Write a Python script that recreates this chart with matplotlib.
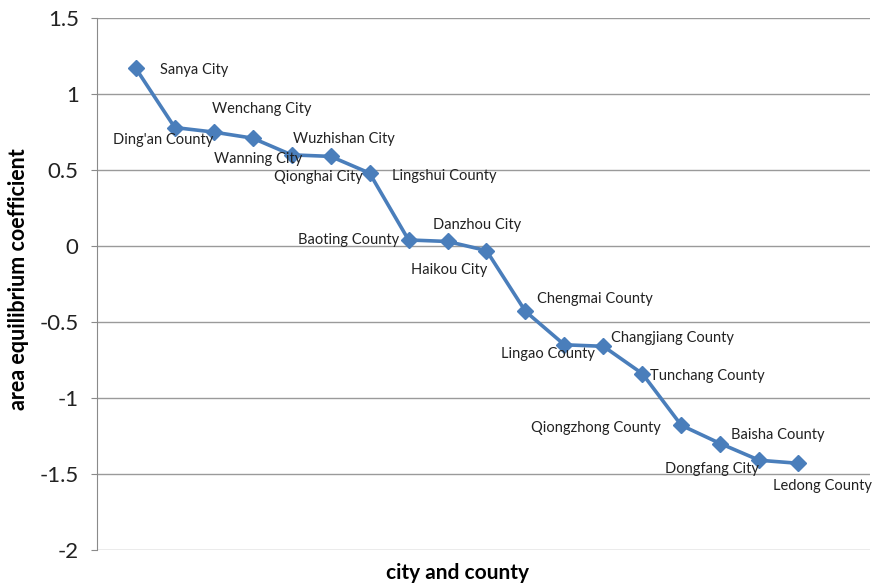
import numpy as np
import matplotlib.pyplot as plt

plt.rcParams['font.family'] = ['Lato', 'DejaVu Sans']

# data
places = ['Sanya City', "Ding'an County", 'Wenchang City', 'Wanning City',
          'Qionghai City', 'Wuzhishan City', 'Lingshui County', 'Baoting County',
          'Danzhou City', 'Haikou City', 'Chengmai County', 'Lingao County',
          'Changjiang County', 'Tunchang County', 'Qiongzhong County',
          'Dongfang City', 'Baisha County', 'Ledong County']
coef = [1.17, 0.78, 0.75, 0.71, 0.60, 0.59, 0.48, 0.04, 0.03, -0.03,
        -0.43, -0.65, -0.66, -0.84, -1.18, -1.30, -1.41, -1.43]
# label offsets in pixels (dx, dy) from each point
offsets = [(58, -2), (-12, -12), (48, 23), (5, -21), (27, -22), (13, 17),
           (75, -3), (-60, 0), (30, 16), (-37, -19), (69, 12), (-16, -9),
           (69, 8), (65, -2), (-85, -3), (-8, -25), (18, 25), (24, -23)]

x = np.arange(1, len(coef) + 1)

fig = plt.figure(figsize=(8.8, 5.85), dpi=100)
ax = fig.add_axes([0.110, 0.060, 0.879, 0.909])

ax.plot(x, coef, color='#4A7EBB', lw=2.6, marker='D', markersize=8.5,
        zorder=3)

for xi, yi, name, (dx, dy) in zip(x, coef, places, offsets):
    ax.annotate(name, (xi, yi), xytext=(dx, dy), textcoords='offset pixels',
                ha='center', va='center', fontsize=10.5, color='#222222')

ax.set_xlim(0, 19.85)
ax.set_ylim(-2, 1.5)
ax.set_yticks(np.arange(-2, 1.51, 0.5))
ax.set_yticklabels(['-2', '-1.5', '-1', '-0.5', '0', '0.5', '1', '1.5'])
ax.set_xticks([])
ax.grid(axis='y', color='#9a9a9a', lw=1)
ax.set_axisbelow(True)
for s in ['top', 'right', 'bottom']:
    ax.spines[s].set_visible(False)
ax.spines['left'].set_color('#8a8a8a')
ax.tick_params(axis='y', labelsize=16, length=4, color='#8a8a8a', pad=9,
               labelcolor='#222222')

fig.text(0.52, 0.021, 'city and county', ha='center', va='center',
         fontsize=15, fontweight='bold')
fig.text(0.021, 0.523, 'area equilibrium coefficient', ha='center', va='center',
         rotation=90, fontsize=15.5, fontweight='bold')

plt.savefig('out.png')
